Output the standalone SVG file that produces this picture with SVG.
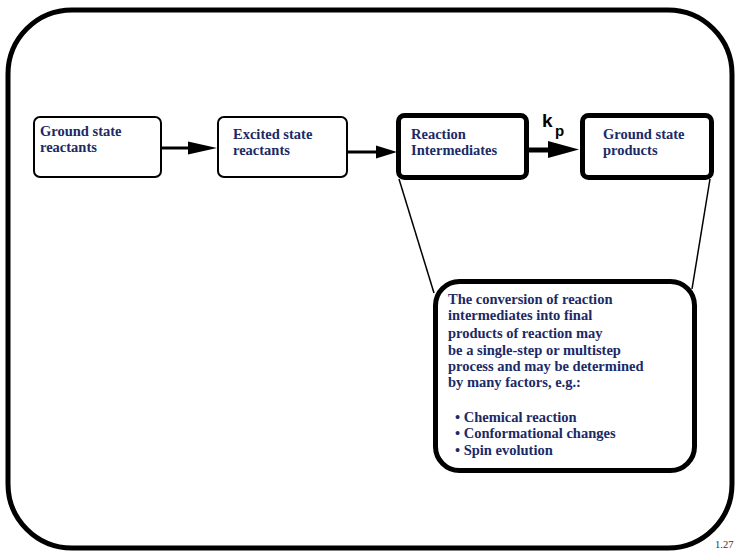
<svg xmlns="http://www.w3.org/2000/svg" width="737" height="552" viewBox="0 0 737 552">
  <style>
    .lbl { font-family: "Liberation Serif", "Times New Roman", serif; font-weight: bold; font-size: 14.5px; fill: #1b2a66; }
    .box { fill: #ffffff; stroke: #000000; stroke-width: 2; }
    .thick { fill: #ffffff; stroke: #000000; stroke-width: 5; }
    .kp { font-family: "Liberation Sans", Arial, sans-serif; font-weight: bold; fill: #000000; }
  </style>
  <rect width="737" height="552" fill="#ffffff"/>

  <!-- slide frame -->
  <rect x="8" y="10" width="724" height="538" rx="64" ry="64" fill="none" stroke="#000000" stroke-width="5"/>

  <!-- connectors -->
  <g id="connectors">
    <line x1="162" y1="148" x2="190" y2="148" stroke="#000" stroke-width="3"/>
    <polygon points="188,141.5 217,148 188,154.5" fill="#000"/>
    <line x1="348" y1="152" x2="378" y2="152" stroke="#000" stroke-width="3"/>
    <polygon points="376,145.5 397,152 376,158.5" fill="#000"/>
    <line x1="528" y1="150" x2="550" y2="150" stroke="#000" stroke-width="5"/>
    <polygon points="548,141 579,149.5 548,158" fill="#000"/>
    <text class="kp" x="542" y="127" font-size="19">k</text>
    <text class="kp" x="555" y="136" font-size="15">p</text>
    <!-- callout leaders -->
    <line x1="399" y1="179" x2="434" y2="293" stroke="#000" stroke-width="1.5"/>
    <line x1="710" y1="179" x2="692" y2="289" stroke="#000" stroke-width="1.5"/>
  </g>

  <g id="ground-reactants">
    <rect class="box" x="34" y="117" width="127" height="60" rx="6"/>
    <text class="lbl" x="40" y="136">Ground state</text>
    <text class="lbl" x="40" y="152">reactants</text>
  </g>

  <g id="excited-reactants">
    <rect class="box" x="218" y="117" width="129" height="60" rx="6"/>
    <text class="lbl" x="233" y="139">Excited state</text>
    <text class="lbl" x="233" y="155">reactants</text>
  </g>

  <g id="intermediates">
    <rect class="thick" x="398.5" y="115.5" width="128" height="62" rx="6"/>
    <text class="lbl" x="411" y="139">Reaction</text>
    <text class="lbl" x="411" y="155">Intermediates</text>
  </g>

  <g id="ground-products">
    <rect class="thick" x="582.5" y="115.5" width="129" height="62" rx="6"/>
    <text class="lbl" x="603" y="139">Ground state</text>
    <text class="lbl" x="603" y="155">products</text>
  </g>

  <g id="callout">
    <rect class="thick" x="435.5" y="281.5" width="259" height="189" rx="24"/>
    <text class="lbl" x="448" y="304">The conversion of reaction</text>
    <text class="lbl" x="448" y="320">intermediates into final</text>
    <text class="lbl" x="448" y="338">products of reaction may</text>
    <text class="lbl" x="448" y="355">be a single-step or multistep</text>
    <text class="lbl" x="448" y="371">process and may be determined</text>
    <text class="lbl" x="448" y="387">by many factors, e.g.:</text>
    <text class="lbl" x="455" y="422">• Chemical reaction</text>
    <text class="lbl" x="455" y="438">• Conformational changes</text>
    <text class="lbl" x="455" y="455">• Spin evolution</text>
  </g>

  <text x="715" y="548" font-family="Liberation Serif, serif" font-size="10.5" fill="#333333">1.27</text>
</svg>
